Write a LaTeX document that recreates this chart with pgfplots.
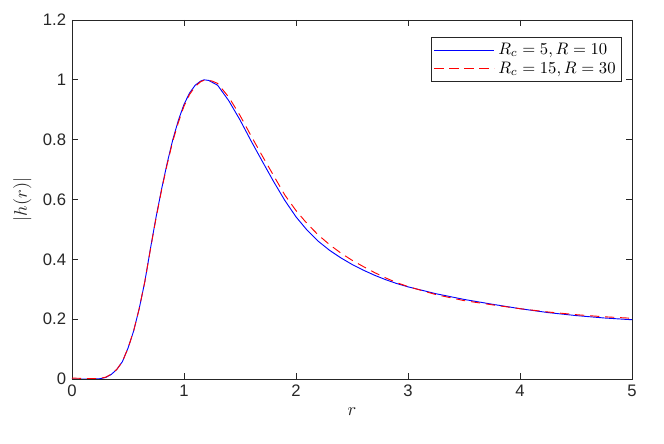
\documentclass[border=0pt]{standalone}
\usepackage[no-math]{fontspec}
\usepackage{pgfplots}
\pgfplotsset{compat=1.18}
\newfontfamily\helv{Liberation Sans}
\definecolor{axgray}{gray}{0.15}
\begin{document}
\begin{tikzpicture}
\useasboundingbox (-43.2pt,-39pt) rectangle (355.2pt,227.4pt);
\begin{axis}[
  at={(0,0)}, anchor=south west,
  scale only axis, width=336pt, height=215.4pt,
  xmin=0, xmax=5, ymin=0, ymax=1.2,
  xtick={0,1,2,3,4,5},
  ytick={0,0.2,0.4,0.6,0.8,1,1.2},
  tick align=inside,
  major tick length=3.5pt,
  axis line style={axgray, line width=0.5pt},
  every tick/.style={axgray, line width=0.5pt},
  tick label style={font=\helv\fontsize{10}{12}\selectfont, text=axgray},
  /pgf/number format/assume math mode=true,
  xlabel={$r$}, ylabel={$|h(r)|$},
  label style={text=axgray, font=\fontsize{11}{13}\selectfont},
  legend style={at={(0.982,0.953)}, anchor=north east, draw=axgray, line width=0.5pt, font=\fontsize{10}{12}\selectfont, inner sep=1.5pt, row sep=-1pt},
  legend cell align=left,
  legend image code/.code={\draw[#1] (0pt,0pt) -- (36pt,0pt);},
]
\addplot[blue, line width=0.55pt] coordinates {
(0,0) (0.1,0) (0.2,0) (0.25,0.001) (0.3,0.005) (0.35,0.015) (0.4,0.032) (0.45,0.058)
(0.5,0.103) (0.55,0.16) (0.6,0.235) (0.65,0.325) (0.7,0.435) (0.75,0.54) (0.8,0.635)
(0.85,0.722) (0.9,0.80) (0.95,0.865) (1.0,0.918) (1.05,0.956) (1.1,0.982) (1.15,0.996)
(1.18,1.0) (1.22,0.998) (1.3,0.982) (1.4,0.93) (1.5,0.866) (1.6,0.795) (1.7,0.727)
(1.8,0.66) (1.9,0.597) (2.0,0.542) (2.1,0.497) (2.2,0.46) (2.3,0.43) (2.4,0.405)
(2.5,0.383) (2.6,0.364) (2.7,0.347) (2.8,0.332) (2.9,0.319) (3.0,0.308) (3.25,0.285)
(3.5,0.266) (3.75,0.250) (4.0,0.235) (4.25,0.222) (4.5,0.212) (4.75,0.204) (5.0,0.198)
};
\addlegendentry{$R_c=5, R=10$}
\addplot[red, line width=0.55pt, dash pattern=on 5.5pt off 3.5pt] coordinates {
(0,0.003) (0.1,0.002) (0.2,0.001) (0.25,0.002) (0.3,0.006) (0.35,0.016) (0.4,0.032) (0.45,0.058)
(0.5,0.103) (0.55,0.16) (0.6,0.235) (0.65,0.325) (0.7,0.433) (0.75,0.537) (0.8,0.632)
(0.85,0.718) (0.9,0.795) (0.95,0.858) (1.0,0.912) (1.05,0.951) (1.1,0.978) (1.15,0.994)
(1.19,1.0) (1.25,0.996) (1.3,0.988) (1.4,0.942) (1.5,0.881) (1.6,0.812) (1.7,0.745)
(1.8,0.68) (1.9,0.615) (2.0,0.563) (2.1,0.519) (2.2,0.481) (2.3,0.449) (2.4,0.421)
(2.5,0.397) (2.6,0.376) (2.7,0.356) (2.8,0.338) (2.9,0.322) (3.0,0.309) (3.25,0.282)
(3.5,0.262) (3.75,0.248) (4.0,0.235) (4.25,0.224) (4.5,0.215) (4.75,0.208) (5.0,0.203)
};
\addlegendentry{$R_c=15, R=30$}
\end{axis}
\end{tikzpicture}
\end{document}
